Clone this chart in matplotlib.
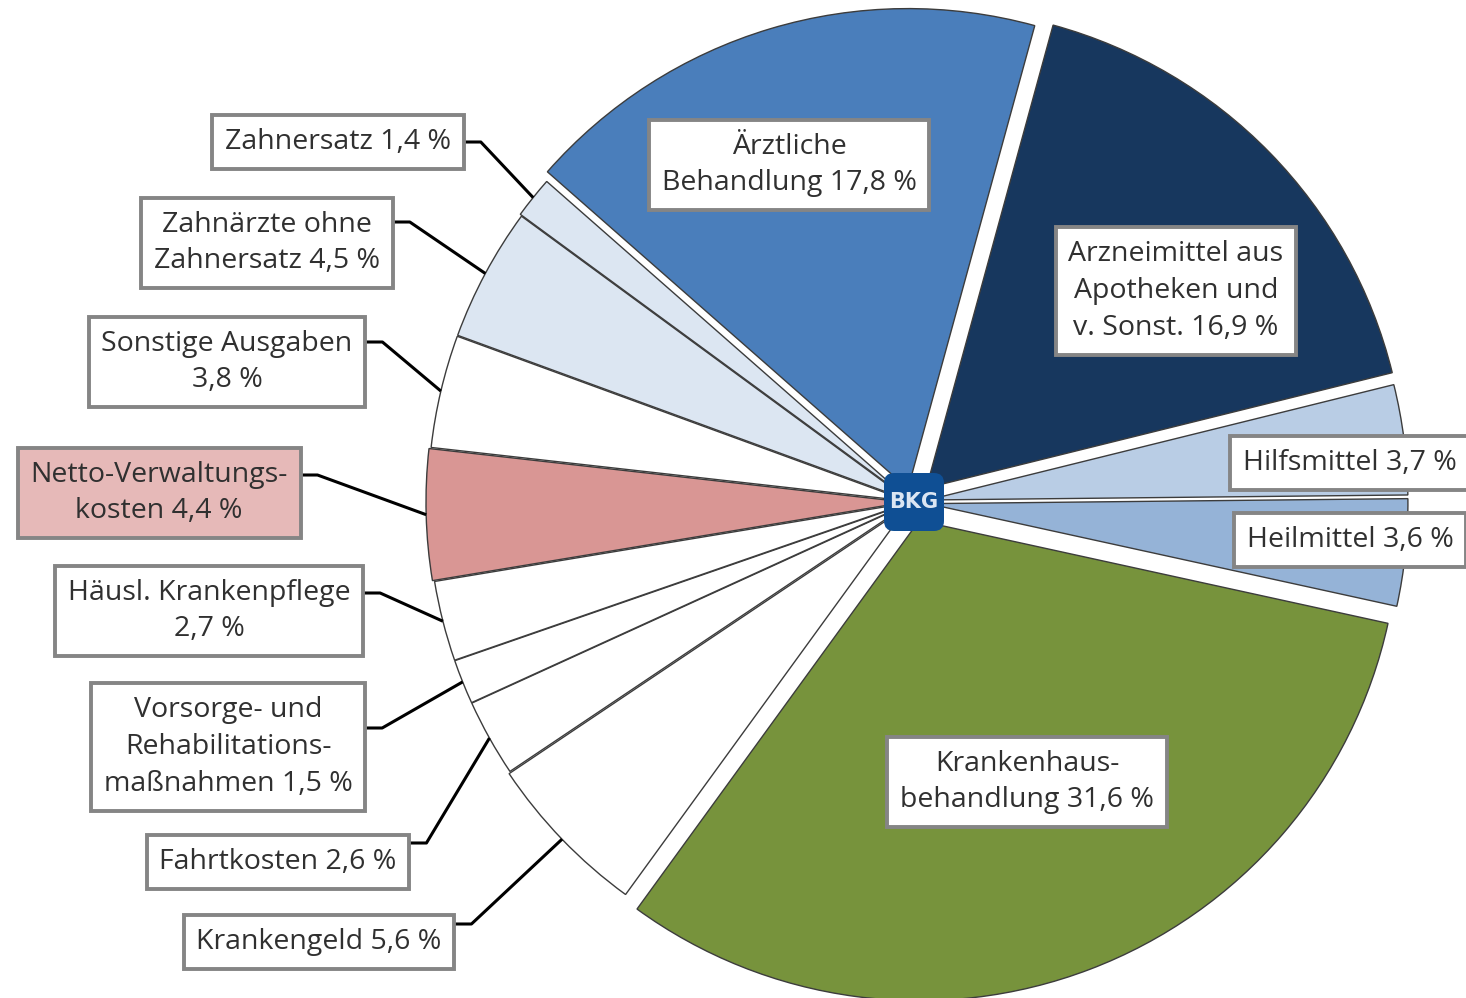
import numpy as np
import matplotlib.pyplot as plt
from matplotlib.patches import FancyBboxPatch

plt.rcParams['font.family'] = ['Open Sans', 'DejaVu Sans']

W, H = 1466, 998

# slices, clockwise from the upper left
labels = ['Ärztliche\nBehandlung 17,8 %',
          'Arzneimittel aus\nApotheken und\nv. Sonst. 16,9 %',
          'Hilfsmittel 3,7 %',
          'Heilmittel 3,6 %',
          'Krankenhaus-\nbehandlung 31,6 %',
          'Krankengeld 5,6 %',
          'Fahrtkosten 2,6 %',
          'Vorsorge- und\nRehabilitations-\nmaßnahmen 1,5 %',
          'Häusl. Krankenpflege\n2,7 %',
          'Netto-Verwaltungs-\nkosten 4,4 %',
          'Sonstige Ausgaben\n3,8 %',
          'Zahnärzte ohne\nZahnersatz 4,5 %',
          'Zahnersatz 1,4 %']
shares = [17.8, 16.9, 3.7, 3.6, 31.6, 5.6, 2.6, 1.5, 2.7, 4.4, 3.8, 4.5, 1.4]
colors = ['#4a7ebb', '#17375e', '#b9cde5', '#95b3d7', '#77933c',
          'white', 'white', 'white', 'white', '#d99694', 'white',
          '#dce6f2', '#dce6f2']
# explode offsets in pixels
explode = [14, 20, 16, 16, 20, 6, 4, 4, 4, 6, 4, 4, 6]

# label box centres in pixels (x, y from top)
label_pos = [(789, 165), (1176, 291), (1350, 463), (1350, 540), (1027, 782),
             (319, 942), (278, 862), (228, 747), (209, 611), (159, 493),
             (227, 362), (267, 243), (338, 142)]
# y where the leader line leaves the box (None: label sits on the slice)
leader_y = [None, None, None, None, None,
            924, 843, 728, 593, 475, 342, 222, 142]
box_fill = ['white'] * 9 + ['#e6b9b8'] + ['white'] * 3

cx, cy, R = 912, H - 502, 480

fig = plt.figure(figsize=(W / 100, H / 100), dpi=100)
ax = fig.add_axes([0, 0, 1, 1])

wedges, _ = ax.pie(shares, colors=colors, explode=explode, startangle=138.7,
                   counterclock=False, radius=R, center=(cx, cy),
                   wedgeprops=dict(edgecolor='#3c3c3c', linewidth=1.0))

ax.set_xlim(0, W)
ax.set_ylim(0, H)
ax.set_aspect('equal')
ax.axis('off')

texts = []
for lab, (x, y), fc in zip(labels, label_pos, box_fill):
    t = ax.text(x, H - y, lab, ha='center', va='center', fontsize=20.5,
                color='#303030', linespacing=1.42, zorder=5,
                bbox=dict(boxstyle='square,pad=0.45', fc=fc, ec='#858585', lw=2.8))
    texts.append(t)

fig.canvas.draw()
inv = ax.transData.inverted()
for w, t, ly in zip(wedges, texts, leader_y):
    if ly is None:
        continue
    ext = t.get_bbox_patch().get_window_extent()
    x0 = inv.transform((ext.x1, 0))[0]
    mid = np.deg2rad((w.theta1 + w.theta2) / 2)
    ex = w.center[0] + w.r * np.cos(mid)
    ey = w.center[1] + w.r * np.sin(mid)
    ax.plot([x0, x0 + 17, ex], [H - ly, H - ly, ey], color='black', lw=2.2,
            zorder=4, solid_capstyle='butt')

# BKG logo in the middle
logo = FancyBboxPatch((884, H - 531), 60, 58, boxstyle='round,pad=0,rounding_size=10',
                      fc='#0f4f94', ec='none', zorder=6)
ax.add_patch(logo)
ax.text(914, H - 502, 'BKG', ha='center', va='center', fontsize=15,
        fontweight='bold', color='#dbe6f3', family='DejaVu Sans', zorder=7)

fig.savefig('out.png', dpi=100)
